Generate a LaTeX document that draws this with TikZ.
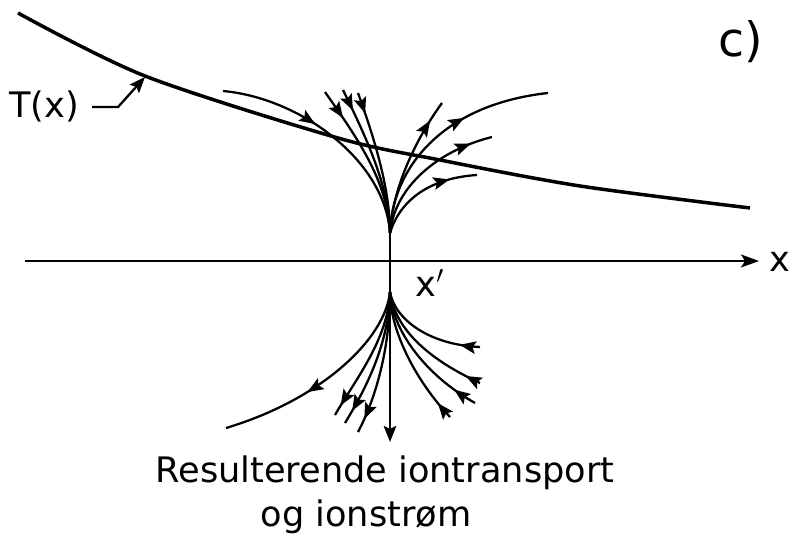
\documentclass[tikz,border=0pt]{standalone}
\usepackage{fontspec}
\setmainfont{DejaVu Sans}
\usetikzlibrary{arrows.meta,decorations.markings}
\tikzset{
  tcurve/.style={line width=2pt},
  axisline/.style={line width=1pt,-{Stealth[length=3.6mm,width=2.6mm,inset=0.8mm]}},
  flow/.style={line width=1.3pt},
  % arrow head placed part way along a flow line
  flowarrow/.style={postaction={decorate},
    decoration={markings,mark=at position #1 with {\arrow{Stealth[length=3.2mm,width=2.5mm,inset=0.6mm]}}}},
  lab/.style={font=\fontsize{20}{24}\selectfont},
  biglab/.style={font=\fontsize{27}{32}\selectfont},
}
\begin{document}
\begin{tikzpicture}[x=0.02cm,y=-0.02cm]
  \useasboundingbox (0,0) rectangle (794,546);
  % the temperature profile T(x)
  \draw[tcurve] plot[smooth] coordinates {(18,13) (145,76) (338,138) (440,160) (580,186) (750,208)};
  \coordinate (tmark) at (145,77);
  \node[lab,anchor=base] (tlabel) at (44,118) {T(x)};
  \draw[flow,-{Stealth[length=3.2mm,width=2.5mm,inset=0.6mm]}] ([xshift=4pt]tlabel.east) -- ++(26,0) -- (tmark);
  \node[biglab,anchor=base] (ctag) at (741,57) {c)};
  % the x axis
  \coordinate (ax0) at (25,261);
  \coordinate (ax1) at (759,261);
  \draw[axisline] (ax0) -- (ax1);
  \node[lab,anchor=base] (xlab) at (780,272) {x};
  % the two points where the flow lines meet
  \coordinate (up) at (390,233);
  \coordinate (low) at (390,292);
  \coordinate (bottom) at (390,442);
  \node[lab,anchor=base] (xprime) at (430,297) {x$'$};
  \draw[flow,-{Stealth[length=3.2mm,width=2.5mm,inset=0.6mm]}] (up) -- (bottom);
  % upper fan: in from the left, out to the right
  \foreach \sx/\sy/\ax/\ay/\bx/\by/\p in {223/91/300/98/385/160/0.42, 325/92/355/135/388/180/0.2,
      343/90/365/135/389/185/0.15, 358/93/375/140/390/190/0.15}
    \draw[flow,flowarrow=\p] (\sx,\sy) .. controls (\ax,\ay) and (\bx,\by) .. (up);
  \foreach \ax/\ay/\bx/\by/\ex/\ey/\p in {392/190/415/140/442/103/0.85, 392/170/440/105/548/93/0.62,
      395/185/440/150/492/137/0.85, 400/200/430/178/477/175/0.75}
    \draw[flow,flowarrow=\p] (up) .. controls (\ax,\ay) and (\bx,\by) .. (\ex,\ey);
  % lower fan: out to the left, in from the right
  \foreach \ax/\ay/\bx/\by/\ex/\ey/\p in {385/340/320/400/226/428/0.6, 388/340/355/380/335/415/0.92,
      389/345/365/390/345/423/0.9, 390/350/375/400/358/432/0.9}
    \draw[flow,flowarrow=\p] (low) .. controls (\ax,\ay) and (\bx,\by) .. (\ex,\ey);
  \foreach \sx/\sy/\ax/\ay/\bx/\by/\p in {480/347/430/345/395/320/0.18, 480/383/430/360/395/330/0.12,
      475/403/425/375/392/330/0.17, 450/417/415/380/390/330/0.13}
    \draw[flow,flowarrow=\p] (\sx,\sy) .. controls (\ax,\ay) and (\bx,\by) .. (low);
  \node[lab,anchor=base] (cap1) at (385,483) {Resulterende iontransport};
  \node[lab,anchor=base] (cap2) at (366,527) {og ionstrøm};
\end{tikzpicture}
\end{document}
